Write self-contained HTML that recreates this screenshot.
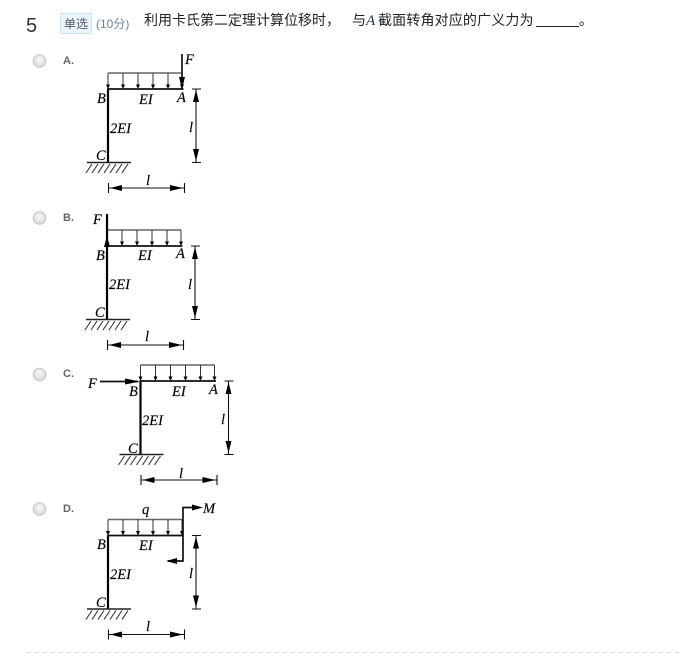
<!DOCTYPE html>
<html><head><meta charset="utf-8">
<style>
html,body{margin:0;padding:0;background:#fff;width:679px;height:655px;overflow:hidden}
svg{display:block}
.t{font-family:"Liberation Serif",serif;font-style:italic;font-size:14.5px;fill:#000;stroke:#000;stroke-width:.15px}
.o{font-family:"Liberation Sans",sans-serif;font-size:11px;font-weight:bold;fill:#666}
.q{font-family:"Liberation Sans","Noto Sans CJK SC",sans-serif;font-size:14px;fill:#222}
</style></head><body>
<svg width="679" height="655" viewBox="0 0 679 655" xmlns="http://www.w3.org/2000/svg">
<defs>
<radialGradient id="r" cx="50%" cy="40%" r="60%"><stop offset="0" stop-color="#f8f8f8"/><stop offset="1" stop-color="#d8d8d8"/></radialGradient>
<g id="ar"><path d="M-2 -3.500H2L0 1Z" fill="#000"/></g>
<g id="frame" fill="none" stroke="#111">
<path d="M108 162.500V89" stroke-width="2.200" stroke="#000"/>
<path d="M107 89H183.500" stroke-width="1.700" stroke="#111"/>
<path d="M108 73H182" stroke-width="1.500" stroke="#666"/>
<path d="M108 73V89M123 73V89M138 73V89M153 73V89M168 73V89M182 73V89" stroke-width="1" stroke="#333"/>
<path d="M87 162.500H131" stroke-width="1.600" stroke="#222"/>
<path d="M86 173L92 164M92 173L98 164M98 173L104 164M104 173L110 164M110 173L116 164M116 173L122 164M122 173L128 164" stroke-width="1.100" stroke="#333"/>
<path d="M192 89H201M192 162.500H201M196 89V162.500" stroke-width="1.100" stroke="#111"/>
<path d="M108.500 183V193M184.500 183V193M108 188H184" stroke-width="1.100" stroke="#111"/>
<path d="M196 90L193 102H199ZM196 161L193 149H199Z" fill="#000" stroke="none"/>
<path d="M110 188L122 185V191ZM183 188L170 185V191Z" fill="#000" stroke="none"/>
<use href="#ar" x="108" y="88" stroke="none"/><use href="#ar" x="123" y="88" stroke="none"/><use href="#ar" x="138" y="88" stroke="none"/><use href="#ar" x="153" y="88" stroke="none"/><use href="#ar" x="168" y="88" stroke="none"/><use href="#ar" x="182" y="88" stroke="none"/>
</g>
</defs>

<text x="26" y="32" font-family="Liberation Sans,sans-serif" font-size="20" fill="#333">5</text>
<rect x="60.500" y="13.500" width="31" height="20" fill="#e9f5fd" stroke="#cbe5f6"/>
<text x="64" y="28" font-family="Liberation Sans,Noto Sans CJK SC,sans-serif" font-size="12" fill="#555">单选</text>
<text x="96" y="28" font-family="Liberation Sans,Noto Sans CJK SC,sans-serif" font-size="12" fill="#6a86a0">(10分)</text>
<text x="144" y="25" class="q">利用卡氏第二定理计算位移时，</text>
<text x="352" y="25" class="q">与</text>
<text x="366" y="25" font-family="Liberation Serif,serif" font-style="italic" font-size="15" fill="#234">A</text>
<text x="378" y="25" class="q" letter-spacing=".15">截面转角对应的广义力为</text>
<path d="M536 26.500H579" stroke="#222" stroke-width="1"/>
<text x="579" y="25" class="q">。</text>

<g stroke="#c4c4c4" fill="url(#r)">
<circle cx="39.500" cy="61" r="6.300"/><circle cx="39.500" cy="218" r="6.300"/><circle cx="39.500" cy="374.500" r="6.300"/><circle cx="39.500" cy="509" r="6.300"/>
</g>
<text x="63" y="64" class="o">A.</text>
<text x="63" y="221" class="o">B.</text>
<text x="63" y="377" class="o">C.</text>
<text x="63" y="512" class="o">D.</text>

<!-- A -->
<use href="#frame"/>
<path d="M182 54V89" stroke="#111" stroke-width="1.700"/>
<path d="M182 89L179 77H185Z" fill="#000"/>
<g class="t">
<text x="185" y="64">F</text><text x="97" y="103">B</text><text x="139" y="104">EI</text><text x="177" y="102">A</text>
<text x="110" y="133">2EI</text><text x="189" y="132">l</text><text x="96" y="160">C</text><text x="146" y="185">l</text>
</g>

<!-- B -->
<use href="#frame" x="-1" y="157"/>
<path d="M107 214V246" stroke="#000" stroke-width="2.200"/>
<path d="M107 236L104 247H110Z" fill="#000"/>
<g class="t">
<text x="93" y="224">F</text><text x="96" y="260">B</text><text x="138" y="260">EI</text><text x="176" y="258">A</text>
<text x="109" y="289">2EI</text><text x="188" y="289">l</text><text x="95" y="317">C</text><text x="145" y="341">l</text>
</g>

<!-- C -->
<use href="#frame" x="32.500" y="292"/>
<path d="M100 381.500H138" stroke="#111" stroke-width="1.700"/>
<path d="M140 381.500L125 378.500V384.500Z" fill="#000"/>
<g class="t">
<text x="88" y="388">F</text><text x="129" y="396">B</text><text x="172" y="396">EI</text><text x="209" y="394">A</text>
<text x="142" y="425">2EI</text><text x="221" y="424">l</text><text x="128" y="453">C</text><text x="179" y="478">l</text>
</g>

<!-- D -->
<use href="#frame" y="446.500"/>
<path d="M183 535.500V507.500H200M183 535.500V561H168" fill="none" stroke="#111" stroke-width="1.700"/>
<path d="M203 507.500L192 504.500V510.500ZM166 561L177 558V564Z" fill="#000"/>
<g class="t">
<text x="203" y="513">M</text><text x="142" y="514">q</text><text x="97" y="549">B</text><text x="139" y="550">EI</text>
<text x="110" y="579">2EI</text><text x="189" y="578">l</text><text x="96" y="607">C</text><text x="146" y="631">l</text>
</g>

<path d="M27 652.500H679" stroke="#d8d8d8" stroke-width="1" stroke-dasharray="4 4"/>
</svg>
</body></html>
